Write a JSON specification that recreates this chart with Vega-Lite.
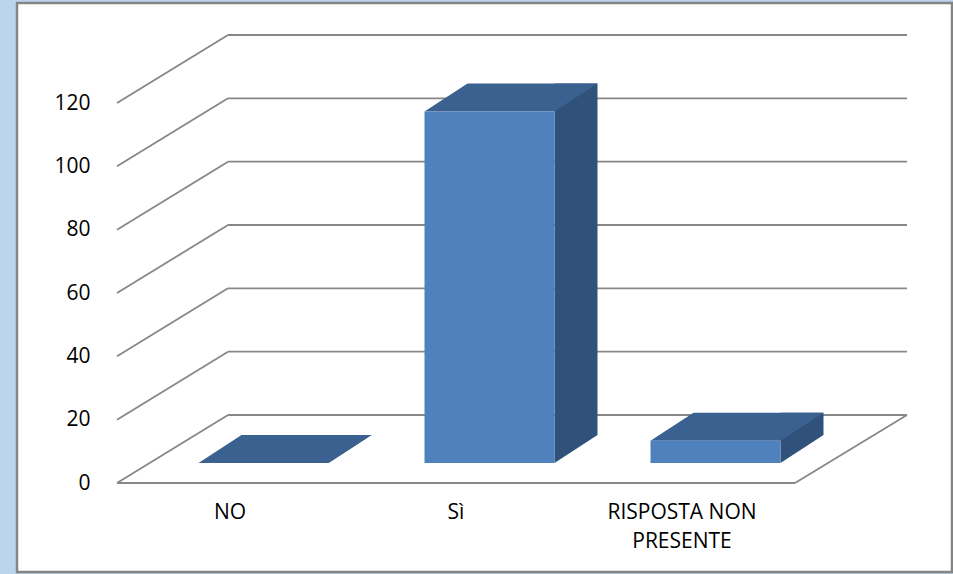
{
  "$schema": "https://vega.github.io/schema/vega-lite/v6.json",
  "width": 935,
  "height": 569,
  "autosize": {"type": "none"},
  "padding": {"left": 17, "top": 3, "right": 1, "bottom": 2},
  "background": "#BCD5EE",
  "config": {
    "view": {"fill": "#FFFFFF", "stroke": "#858585", "strokeWidth": 2.5},
    "font": "Open Sans"
  },
  "datasets": {
    "risposte": [
      {"risposta": "NO", "n": 0},
      {"risposta": "Sì", "n": 111},
      {"risposta": "RISPOSTA NON PRESENTE", "n": 7}
    ],
    "griglia": [
      {"v": 0}, {"v": 20}, {"v": 40}, {"v": 60}, {"v": 80}, {"v": 100}, {"v": 120}
    ],
    "uno": [{"k": 1}]
  },
  "layer": [
    {
      "data": {"name": "griglia"},
      "mark": {"type": "rule", "color": "#878787", "strokeWidth": 1.8, "x2Offset": 111, "y2Offset": -68},
      "encoding": {
        "x": {"datum": "NO", "type": "nominal", "bandPosition": 0,
          "scale": {"domain": ["NO", "Sì", "RISPOSTA NON PRESENTE"], "range": [100, 778], "paddingInner": 0, "paddingOuter": 0},
          "axis": {"orient": "bottom", "offset": -89, "domain": false, "ticks": false, "grid": false, "title": null,
            "labelAngle": 0, "labelFont": "Open Sans", "labelFontSize": 21, "labelColor": "#000000", "labelPadding": 18,
            "labelLineHeight": 29, "labelLimit": 0,
            "labelExpr": "datum.value == 'RISPOSTA NON PRESENTE' ? ['RISPOSTA NON', 'PRESENTE'] : datum.value"}},
        "x2": {"datum": "NO", "bandPosition": 0},
        "y": {"field": "v", "type": "quantitative",
          "scale": {"domain": [0, 120], "range": [480, 100], "nice": false, "zero": false},
          "axis": {"orient": "left", "offset": -100, "domain": false, "ticks": false, "grid": false, "title": null,
            "values": [0, 20, 40, 60, 80, 100, 120], "labelFont": "Open Sans", "labelFontSize": 21,
            "labelColor": "#000000", "labelPadding": 27}},
        "y2": {"field": "v"}
      }
    },
    {
      "data": {"name": "griglia"},
      "mark": {"type": "rule", "color": "#878787", "strokeWidth": 1.8, "xOffset": 111, "x2Offset": 112, "yOffset": -68},
      "encoding": {
        "x": {"datum": "NO", "type": "nominal", "bandPosition": 0},
        "x2": {"datum": "RISPOSTA NON PRESENTE", "bandPosition": 1},
        "y": {"field": "v", "type": "quantitative"}
      }
    },
    {
      "data": {"name": "uno"},
      "mark": {"type": "rule", "color": "#878787", "strokeWidth": 1.8},
      "encoding": {
        "x": {"datum": "NO", "type": "nominal", "bandPosition": 0},
        "x2": {"datum": "RISPOSTA NON PRESENTE", "bandPosition": 1},
        "y": {"datum": 0, "type": "quantitative"}
      }
    },
    {
      "data": {"name": "uno"},
      "mark": {"type": "rule", "color": "#878787", "strokeWidth": 1.8, "x2Offset": 112, "y2Offset": -68},
      "encoding": {
        "x": {"datum": "RISPOSTA NON PRESENTE", "type": "nominal", "bandPosition": 1},
        "x2": {"datum": "RISPOSTA NON PRESENTE", "bandPosition": 1},
        "y": {"datum": 0, "type": "quantitative"},
        "y2": {"datum": 0}
      }
    },
    {
      "data": {"name": "risposte"},
      "mark": {"type": "bar", "color": "#30527A", "width": 43, "xOffset": 120, "yOffset": -48, "y2Offset": -48},
      "encoding": {
        "x": {"field": "risposta", "type": "nominal"},
        "y": {"field": "n", "type": "quantitative"},
        "y2": {"datum": 0}
      }
    },
    {
      "data": {"name": "risposte"},
      "mark": {"type": "point", "filled": true, "opacity": 1, "color": "#30527A", "strokeWidth": 0, "size": 67600,
        "shape": "M 0.5 0 L 0.8308 -0.2154 L 0.5 -0.2154 Z", "xOffset": 33.5, "yOffset": -20},
      "encoding": {
        "x": {"field": "risposta", "type": "nominal"},
        "y": {"datum": 0, "type": "quantitative"}
      }
    },
    {
      "data": {"name": "risposte"},
      "mark": {"type": "point", "filled": true, "opacity": 1, "color": "#3B6190", "strokeWidth": 0, "size": 67600,
        "shape": "M -0.5 0 L 0.5 0 L 0.8308 -0.2154 L -0.1692 -0.2154 Z", "xOffset": 33.5, "yOffset": -20},
      "encoding": {
        "x": {"field": "risposta", "type": "nominal"},
        "y": {"field": "n", "type": "quantitative"}
      }
    },
    {
      "data": {"name": "risposte"},
      "mark": {"type": "bar", "color": "#4F81BD", "width": 130, "xOffset": 33.5, "yOffset": -20, "y2Offset": -20},
      "encoding": {
        "x": {"field": "risposta", "type": "nominal"},
        "y": {"field": "n", "type": "quantitative"},
        "y2": {"datum": 0}
      }
    }
  ]
}
